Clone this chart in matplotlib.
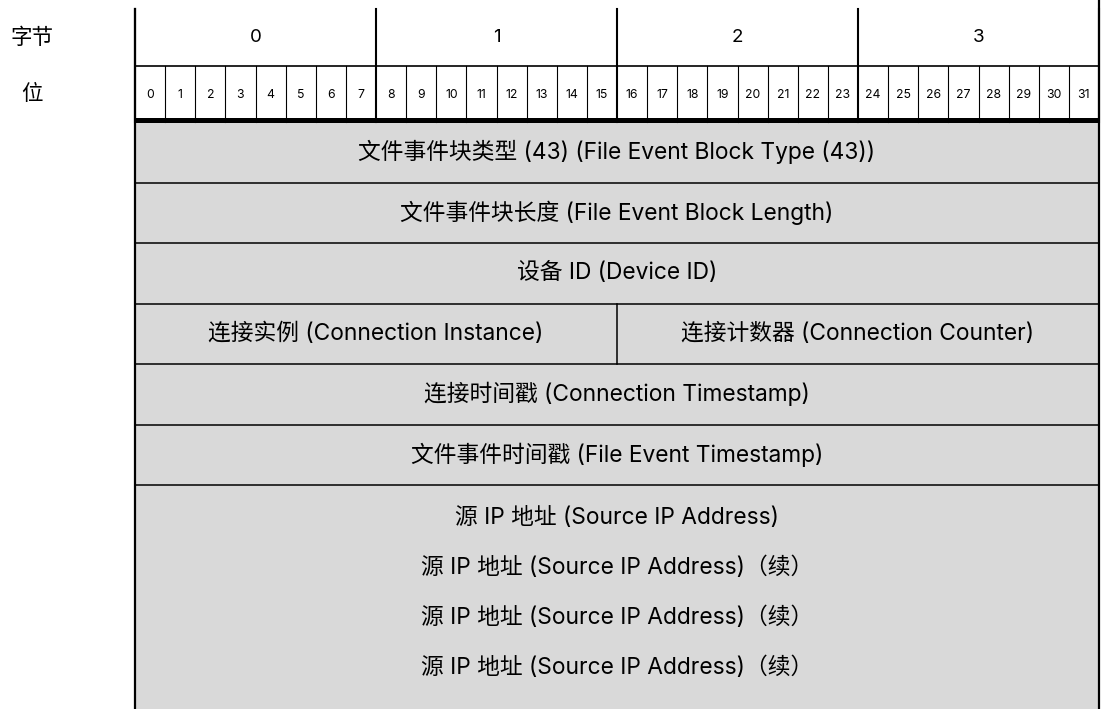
import matplotlib
matplotlib.use("Agg")
import matplotlib.pyplot as plt
from matplotlib.patches import Rectangle

plt.rcParams['font.family'] = ['Inter', 'Noto Sans CJK SC', 'DejaVu Sans']

# header
byte_labels = ["0", "1", "2", "3"]
bit_labels = [str(i) for i in range(32)]
row_titles = ["字节", "位"]

# fields: (start bit, end bit, row)
field_starts = [0, 0, 0, 0, 16, 0, 0, 0]
field_ends = [32, 32, 32, 16, 32, 32, 32, 32]
field_rows = [0, 1, 2, 3, 3, 4, 5, 6]
field_names = [
    "文件事件块类型 (43) (File Event Block Type (43))",
    "文件事件块长度 (File Event Block Length)",
    "设备 ID (Device ID)",
    "连接实例 (Connection Instance)",
    "连接计数器 (Connection Counter)",
    "连接时间戳 (Connection Timestamp)",
    "文件事件时间戳 (File Event Timestamp)",
    "",
]
# the last block is open at the bottom and holds several lines
last_lines = [
    "源 IP 地址 (Source IP Address)",
    "源 IP 地址 (Source IP Address)（续）",
    "源 IP 地址 (Source IP Address)（续）",
    "源 IP 地址 (Source IP Address)（续）",
]

W, H = 1102, 709
fig = plt.figure(figsize=(W / 100, H / 100), dpi=100)
ax = fig.add_axes([0, 0, 1, 1])
ax.axis('off')

bitw = 964 / 32.0
rowh = 60.5
x0 = -135 / bitw
x1 = 32 + 3 / bitw
y_top = -122 / rowh
y_bot = (H - 122) / rowh
ax.set_xlim(x0, x1)
ax.set_ylim(y_bot, y_top)

hdr = 0.93
gray = "#d9d9d9"
fs = 16.4

# gray field boxes
for s, e, r, name in zip(field_starts, field_ends, field_rows, field_names):
    top = r
    bot = r + 1 if r < 6 else y_bot + 0.1
    ax.add_patch(Rectangle((s, top), e - s, bot - top, facecolor=gray,
                           edgecolor="none", zorder=1))
    ax.plot([s, s], [top, bot], color="black", lw=1.1, zorder=3)
    if r < 6:
        ax.plot([s, e], [bot, bot], color="black", lw=1.1, zorder=3,
                solid_capstyle="butt")
        ax.text((s + e) / 2, r + 0.5, name, ha="center", va="center",
                fontsize=fs, zorder=4)

for i, line in enumerate(last_lines):
    ax.text(16, 6.54 + i * 0.826, line, ha="center", va="center",
            fontsize=fs, zorder=4)

# header: byte row and bit row
for i, lab in enumerate(byte_labels):
    ax.text(i * 8 + 4, -hdr * 1.5, lab, ha="center", va="center", fontsize=13.5)
for i, lab in enumerate(bit_labels):
    ax.text(i + 0.5, -hdr * 0.5 + 0.02, lab, ha="center", va="center", fontsize=8.8)
for b in range(33):
    if b % 8 == 0:
        ax.plot([b, b], [-2 * hdr, 0], color="black", lw=1.5, zorder=3)
    else:
        ax.plot([b, b], [-hdr, 0], color="black", lw=0.8, zorder=3)
ax.plot([0, 32], [-hdr, -hdr], color="black", lw=1.2, zorder=3,
        solid_capstyle="butt")
ax.plot([0, 32], [-0.04, -0.04], color="black", lw=3.6, zorder=5,
        solid_capstyle="butt")

# outer borders
ax.plot([0, 0], [-2 * hdr, y_bot + 0.1], color="black", lw=1.6, zorder=5)
ax.plot([32, 32], [y_top, y_bot + 0.1], color="black", lw=1.6, zorder=5)

ax.text(-3.42, -hdr * 1.5, row_titles[0], ha="center", va="center", fontsize=15.5)
ax.text(-3.42, -hdr * 0.5, row_titles[1], ha="center", va="center", fontsize=15.5)

fig.savefig("out.png", dpi=100)
